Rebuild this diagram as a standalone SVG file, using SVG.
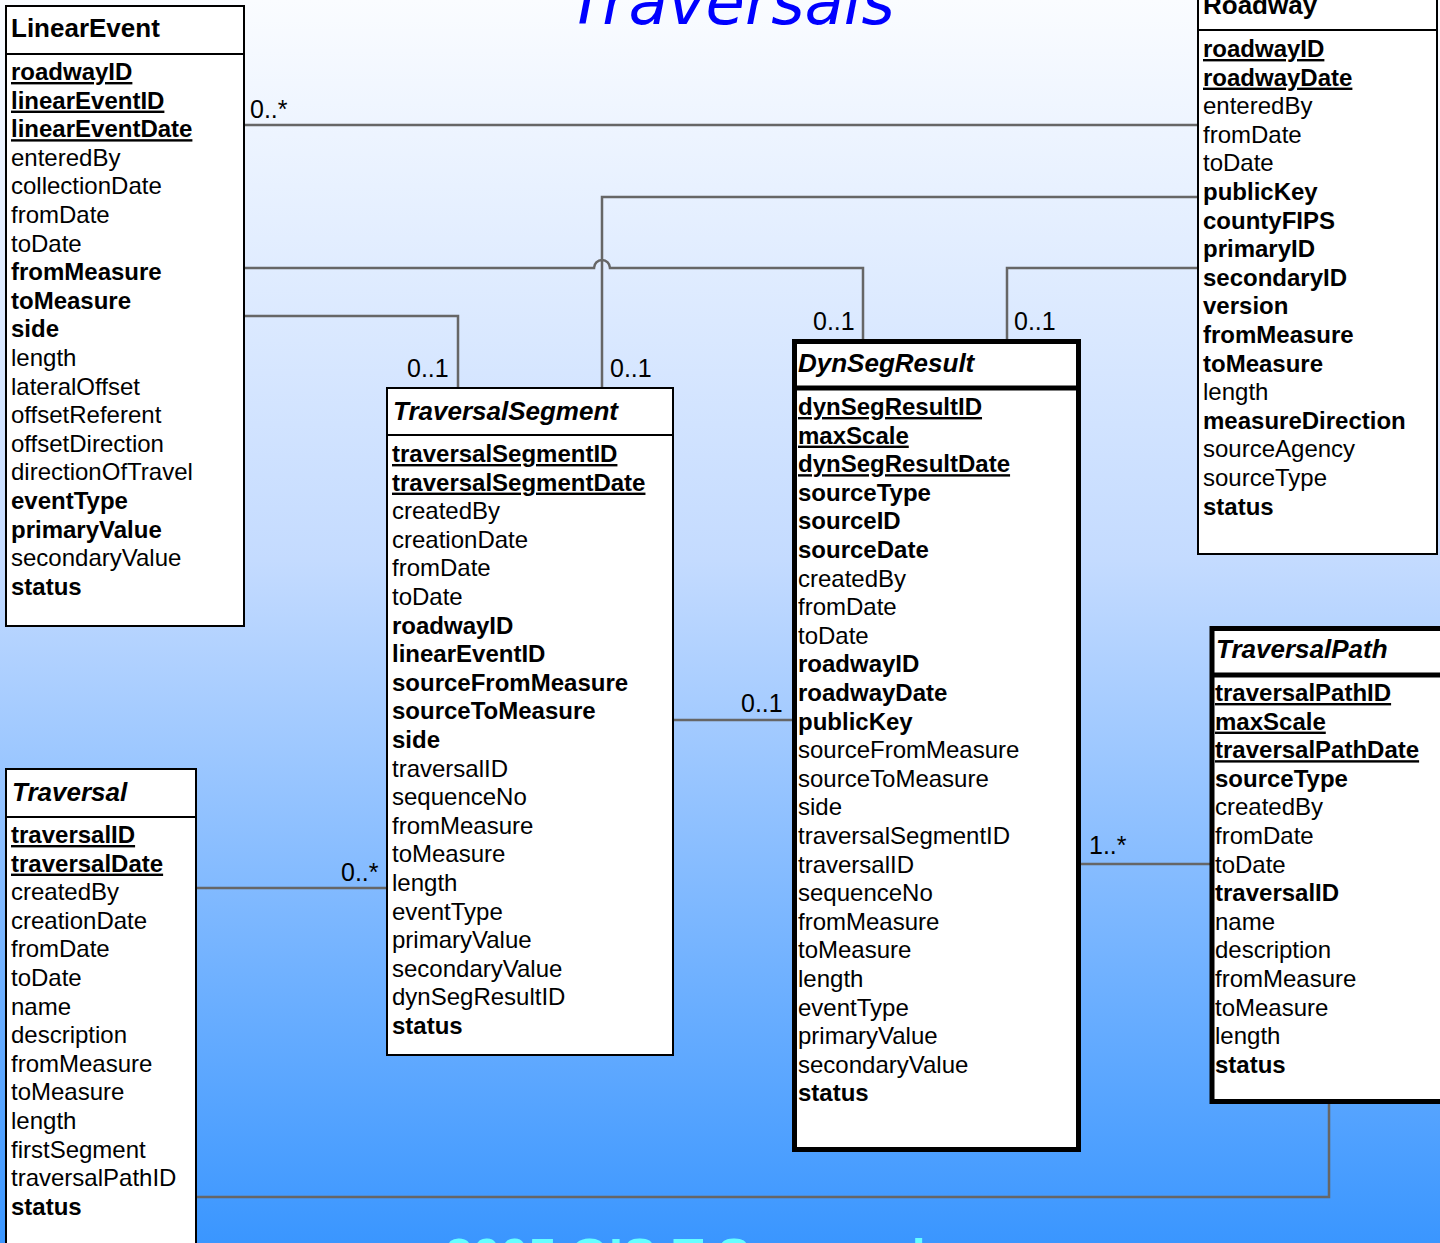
<svg xmlns="http://www.w3.org/2000/svg" width="1440" height="1243" viewBox="0 0 1440 1243">
<defs>
<linearGradient id="bg" x1="0" y1="0" x2="0" y2="1">
<stop offset="0" stop-color="#fafcff"/>
<stop offset="0.45" stop-color="#c4dbff"/>
<stop offset="1" stop-color="#3a96ff"/>
</linearGradient>
<style>
text{font-family:"Liberation Sans",Arial,sans-serif;font-size:24px;fill:#000}
.h{font-size:26px;font-weight:bold}
.hi{font-size:26px;font-weight:bold;font-style:italic}
.b{font-weight:bold}
.u{font-weight:bold;text-decoration:underline}
.box{fill:#fff;stroke:#000;stroke-width:2}
.tbox{fill:#fff;stroke:#000;stroke-width:5}
.sep{stroke:#000;stroke-width:2}
.tsep{stroke:#000;stroke-width:5}
.c{fill:none;stroke:#666;stroke-width:2.5}
.m{font-size:25px}
</style>
</defs>
<rect width="1440" height="1243" fill="url(#bg)"/>
<text x="568" y="24" style="font-family:'DejaVu Sans',sans-serif;font-size:64px;font-style:italic;fill:#0000ff">Traversals</text>
<text x="445" y="1274" style="font-size:50px;font-weight:bold;fill:#66ffff">2005 GIS-T Symposium</text>

<g id="connectors">
<path class="c" d="M244,125 H1198"/>
<path class="c" d="M1198,197 H602 V388"/>
<path class="c" d="M244,268 H594 A8,8 0 0 1 610,268 H863 V339"/>
<path class="c" d="M1198,268 H1007 V339"/>
<path class="c" d="M244,316 H458 V388"/>
<path class="c" d="M673,720 H792"/>
<path class="c" d="M196,888 H387"/>
<path class="c" d="M1080,864 H1210"/>
<path class="c" d="M1329,1103 V1197 H196"/>
<text class="m" x="250" y="118">0..*</text>
<text class="m" x="610" y="377">0..1</text>
<text class="m" x="407" y="377">0..1</text>
<text class="m" x="813" y="330">0..1</text>
<text class="m" x="1014" y="330">0..1</text>
<text class="m" x="741" y="712">0..1</text>
<text class="m" x="341" y="881">0..*</text>
<text class="m" x="1089" y="854">1..*</text>
</g>

<g id="LinearEvent">
<rect class="box" x="6" y="6" width="238" height="620"/>
<line class="sep" x1="6" y1="54" x2="244" y2="54"/>
<text class="h" x="11" y="37">LinearEvent</text>
<text x="11" y="80">
<tspan class="u" x="11" y="80">roadwayID</tspan>
<tspan class="u" x="11" dy="28.6">linearEventID</tspan>
<tspan class="u" x="11" dy="28.6">linearEventDate</tspan>
<tspan x="11" dy="28.6">enteredBy</tspan>
<tspan x="11" dy="28.6">collectionDate</tspan>
<tspan x="11" dy="28.6">fromDate</tspan>
<tspan x="11" dy="28.6">toDate</tspan>
<tspan class="b" x="11" dy="28.6">fromMeasure</tspan>
<tspan class="b" x="11" dy="28.6">toMeasure</tspan>
<tspan class="b" x="11" dy="28.6">side</tspan>
<tspan x="11" dy="28.6">length</tspan>
<tspan x="11" dy="28.6">lateralOffset</tspan>
<tspan x="11" dy="28.6">offsetReferent</tspan>
<tspan x="11" dy="28.6">offsetDirection</tspan>
<tspan x="11" dy="28.6">directionOfTravel</tspan>
<tspan class="b" x="11" dy="28.6">eventType</tspan>
<tspan class="b" x="11" dy="28.6">primaryValue</tspan>
<tspan x="11" dy="28.6">secondaryValue</tspan>
<tspan class="b" x="11" dy="28.6">status</tspan>
</text>
</g>

<g id="Roadway">
<rect class="box" x="1198" y="-18" width="239" height="572"/>
<line class="sep" x1="1198" y1="30" x2="1437" y2="30"/>
<text class="h" x="1203" y="14">Roadway</text>
<text x="1203" y="57">
<tspan class="u" x="1203" y="57">roadwayID</tspan>
<tspan class="u" x="1203" dy="28.6">roadwayDate</tspan>
<tspan x="1203" dy="28.6">enteredBy</tspan>
<tspan x="1203" dy="28.6">fromDate</tspan>
<tspan x="1203" dy="28.6">toDate</tspan>
<tspan class="b" x="1203" dy="28.6">publicKey</tspan>
<tspan class="b" x="1203" dy="28.6">countyFIPS</tspan>
<tspan class="b" x="1203" dy="28.6">primaryID</tspan>
<tspan class="b" x="1203" dy="28.6">secondaryID</tspan>
<tspan class="b" x="1203" dy="28.6">version</tspan>
<tspan class="b" x="1203" dy="28.6">fromMeasure</tspan>
<tspan class="b" x="1203" dy="28.6">toMeasure</tspan>
<tspan x="1203" dy="28.6">length</tspan>
<tspan class="b" x="1203" dy="28.6">measureDirection</tspan>
<tspan x="1203" dy="28.6">sourceAgency</tspan>
<tspan x="1203" dy="28.6">sourceType</tspan>
<tspan class="b" x="1203" dy="28.6">status</tspan>
</text>
</g>

<g id="TraversalSegment">
<rect class="box" x="387" y="388" width="286" height="667"/>
<line class="sep" x1="387" y1="435" x2="673" y2="435"/>
<text class="hi" x="393" y="420">TraversalSegment</text>
<text x="392" y="462">
<tspan class="u" x="392" y="462">traversalSegmentID</tspan>
<tspan class="u" x="392" dy="28.6">traversalSegmentDate</tspan>
<tspan x="392" dy="28.6">createdBy</tspan>
<tspan x="392" dy="28.6">creationDate</tspan>
<tspan x="392" dy="28.6">fromDate</tspan>
<tspan x="392" dy="28.6">toDate</tspan>
<tspan class="b" x="392" dy="28.6">roadwayID</tspan>
<tspan class="b" x="392" dy="28.6">linearEventID</tspan>
<tspan class="b" x="392" dy="28.6">sourceFromMeasure</tspan>
<tspan class="b" x="392" dy="28.6">sourceToMeasure</tspan>
<tspan class="b" x="392" dy="28.6">side</tspan>
<tspan x="392" dy="28.6">traversalID</tspan>
<tspan x="392" dy="28.6">sequenceNo</tspan>
<tspan x="392" dy="28.6">fromMeasure</tspan>
<tspan x="392" dy="28.6">toMeasure</tspan>
<tspan x="392" dy="28.6">length</tspan>
<tspan x="392" dy="28.6">eventType</tspan>
<tspan x="392" dy="28.6">primaryValue</tspan>
<tspan x="392" dy="28.6">secondaryValue</tspan>
<tspan x="392" dy="28.6">dynSegResultID</tspan>
<tspan class="b" x="392" dy="28.6">status</tspan>
</text>
</g>

<g id="DynSegResult">
<rect class="tbox" x="794.5" y="341.5" width="284" height="808"/>
<line class="tsep" x1="794.5" y1="388" x2="1078.5" y2="388"/>
<text class="hi" x="798" y="372">DynSegResult</text>
<text x="798" y="415">
<tspan class="u" x="798" y="415">dynSegResultID</tspan>
<tspan class="u" x="798" dy="28.6">maxScale</tspan>
<tspan class="u" x="798" dy="28.6">dynSegResultDate</tspan>
<tspan class="b" x="798" dy="28.6">sourceType</tspan>
<tspan class="b" x="798" dy="28.6">sourceID</tspan>
<tspan class="b" x="798" dy="28.6">sourceDate</tspan>
<tspan x="798" dy="28.6">createdBy</tspan>
<tspan x="798" dy="28.6">fromDate</tspan>
<tspan x="798" dy="28.6">toDate</tspan>
<tspan class="b" x="798" dy="28.6">roadwayID</tspan>
<tspan class="b" x="798" dy="28.6">roadwayDate</tspan>
<tspan class="b" x="798" dy="28.6">publicKey</tspan>
<tspan x="798" dy="28.6">sourceFromMeasure</tspan>
<tspan x="798" dy="28.6">sourceToMeasure</tspan>
<tspan x="798" dy="28.6">side</tspan>
<tspan x="798" dy="28.6">traversalSegmentID</tspan>
<tspan x="798" dy="28.6">traversalID</tspan>
<tspan x="798" dy="28.6">sequenceNo</tspan>
<tspan x="798" dy="28.6">fromMeasure</tspan>
<tspan x="798" dy="28.6">toMeasure</tspan>
<tspan x="798" dy="28.6">length</tspan>
<tspan x="798" dy="28.6">eventType</tspan>
<tspan x="798" dy="28.6">primaryValue</tspan>
<tspan x="798" dy="28.6">secondaryValue</tspan>
<tspan class="b" x="798" dy="28.6">status</tspan>
</text>
</g>

<g id="TraversalPath">
<rect class="tbox" x="1212" y="628.5" width="240" height="473"/>
<line class="tsep" x1="1212" y1="675" x2="1452" y2="675"/>
<text class="hi" x="1216" y="658">TraversalPath</text>
<text x="1215" y="701">
<tspan class="u" x="1215" y="701">traversalPathID</tspan>
<tspan class="u" x="1215" dy="28.6">maxScale</tspan>
<tspan class="u" x="1215" dy="28.6">traversalPathDate</tspan>
<tspan class="b" x="1215" dy="28.6">sourceType</tspan>
<tspan x="1215" dy="28.6">createdBy</tspan>
<tspan x="1215" dy="28.6">fromDate</tspan>
<tspan x="1215" dy="28.6">toDate</tspan>
<tspan class="b" x="1215" dy="28.6">traversalID</tspan>
<tspan x="1215" dy="28.6">name</tspan>
<tspan x="1215" dy="28.6">description</tspan>
<tspan x="1215" dy="28.6">fromMeasure</tspan>
<tspan x="1215" dy="28.6">toMeasure</tspan>
<tspan x="1215" dy="28.6">length</tspan>
<tspan class="b" x="1215" dy="28.6">status</tspan>
</text>
</g>

<g id="Traversal">
<rect class="box" x="6" y="769" width="190" height="500"/>
<line class="sep" x1="6" y1="817" x2="196" y2="817"/>
<text class="hi" x="12" y="801">Traversal</text>
<text x="11" y="843">
<tspan class="u" x="11" y="843">traversalID</tspan>
<tspan class="u" x="11" dy="28.6">traversalDate</tspan>
<tspan x="11" dy="28.6">createdBy</tspan>
<tspan x="11" dy="28.6">creationDate</tspan>
<tspan x="11" dy="28.6">fromDate</tspan>
<tspan x="11" dy="28.6">toDate</tspan>
<tspan x="11" dy="28.6">name</tspan>
<tspan x="11" dy="28.6">description</tspan>
<tspan x="11" dy="28.6">fromMeasure</tspan>
<tspan x="11" dy="28.6">toMeasure</tspan>
<tspan x="11" dy="28.6">length</tspan>
<tspan x="11" dy="28.6">firstSegment</tspan>
<tspan x="11" dy="28.6">traversalPathID</tspan>
<tspan class="b" x="11" dy="28.6">status</tspan>
</text>
</g>
</svg>
